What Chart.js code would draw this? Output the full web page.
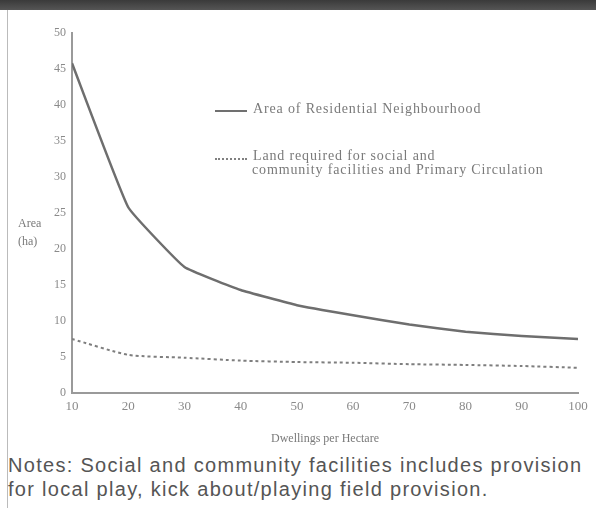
<!DOCTYPE html>
<html>
<head>
<meta charset="utf-8">
<script src="https://cdn.jsdelivr.net/npm/chart.js@4"></script>
<style>
  body { margin: 0; background: #fff; width: 596px; height: 508px; overflow: hidden; position: relative; }
  .topbar { position: absolute; left: 0; top: 0; width: 596px; height: 10px; background: linear-gradient(#3a3a3a, #555); }
  .leftrule { position: absolute; left: 7px; top: 10px; width: 1px; height: 498px; background: #bbb; }
  #wrap { position: absolute; left: 8px; top: 12px; width: 588px; height: 438px; }
  .serif { font-family: "Liberation Serif", "DejaVu Serif", serif; color: #7a7a7a; }
  .ytitle { position: absolute; left: 18px; top: 214px; font-size: 12px; line-height: 18px; }
  .legend { position: absolute; font-size: 14px; letter-spacing: 0.85px; white-space: nowrap; }
  .swatch { position: absolute; width: 32px; height: 0; }
  .notes { position: absolute; left: 8px; top: 453px; font-family: "Liberation Sans", Arial, sans-serif; font-size: 20px; letter-spacing: 1.3px; line-height: 24px; color: #555; white-space: nowrap; }
</style>
</head>
<body>
<div class="topbar"></div>
<div class="leftrule"></div>
<div id="wrap"><canvas id="myChart"></canvas></div>
<div class="serif ytitle">Area<br>(ha)</div>
<div class="swatch" style="left:215px; top:110px; border-top:2px solid #707070;"></div>
<div class="serif legend" style="left:253px; top:101px;">Area of Residential Neighbourhood</div>
<div class="swatch" style="left:215px; top:158px; border-top:2px dotted #808080;"></div>
<div class="serif legend" style="left:253px; top:148px;">Land required for social and</div>
<div class="serif legend" style="left:252px; top:162px;">community facilities and Primary Circulation</div>
<div class="notes">Notes: Social and community facilities includes provision<br>for local play, kick about/playing field provision.</div>
<script>
const dwellings = [10, 20, 30, 40, 50, 60, 70, 80, 90, 100];
const residentialArea = [45.8, 25.8, 17.5, 14.3, 12.2, 10.8, 9.5, 8.5, 7.9, 7.5];
const facilitiesLand = [7.5, 5.3, 4.9, 4.5, 4.3, 4.2, 4.0, 3.9, 3.75, 3.5];

const ctx_1 = document.getElementById("myChart");

new Chart(ctx_1, {
  type: "line",
  data: {
    datasets: [
      {
        label: "Area of Residential Neighbourhood",
        data: dwellings.map((d, i) => ({ x: d, y: residentialArea[i] })),
        borderColor: "#6e6e6e",
        borderWidth: 2.5,
        pointRadius: 0,
        tension: 0.1,
      },
      {
        label: "Land required for social and community facilities and Primary Circulation",
        data: dwellings.map((d, i) => ({ x: d, y: facilitiesLand[i] })),
        borderColor: "#7e7e7e",
        borderWidth: 2,
        borderDash: [3, 3],
        pointRadius: 0,
        tension: 0.2,
      },
    ],
  },
  options: {
    responsive: true,
    maintainAspectRatio: false,
    animation: false,
    layout: { padding: { top: 21, right: 18, left: 0, bottom: 0 } },
    plugins: {
      legend: { display: false },
      tooltip: { enabled: false },
    },
    scales: {
      x: {
        type: "linear",
        min: 10,
        max: 100,
        ticks: {
          stepSize: 10,
          color: "#8a8a8a",
          padding: 6,
          font: { family: "Liberation Serif", size: 13 },
        },
        grid: { display: false, drawTicks: false },
        border: { color: "#9a9a9a", width: 2 },
        title: {
          display: true,
          text: "Dwellings per Hectare",
          color: "#7a7a7a",
          font: { family: "Liberation Serif", size: 12 },
          padding: { top: 6 },
        },
        afterFit: (scale) => { scale.height = 57; },
      },
      y: {
        min: 0,
        max: 50,
        ticks: {
          stepSize: 5,
          color: "#8a8a8a",
          padding: 6,
          font: { family: "Liberation Serif", size: 12 },
        },
        grid: { display: false, drawTicks: false },
        border: { color: "#9a9a9a", width: 2 },
        afterFit: (scale) => { scale.width = 64; },
      },
    },
  },
});
</script>
</body>
</html>
